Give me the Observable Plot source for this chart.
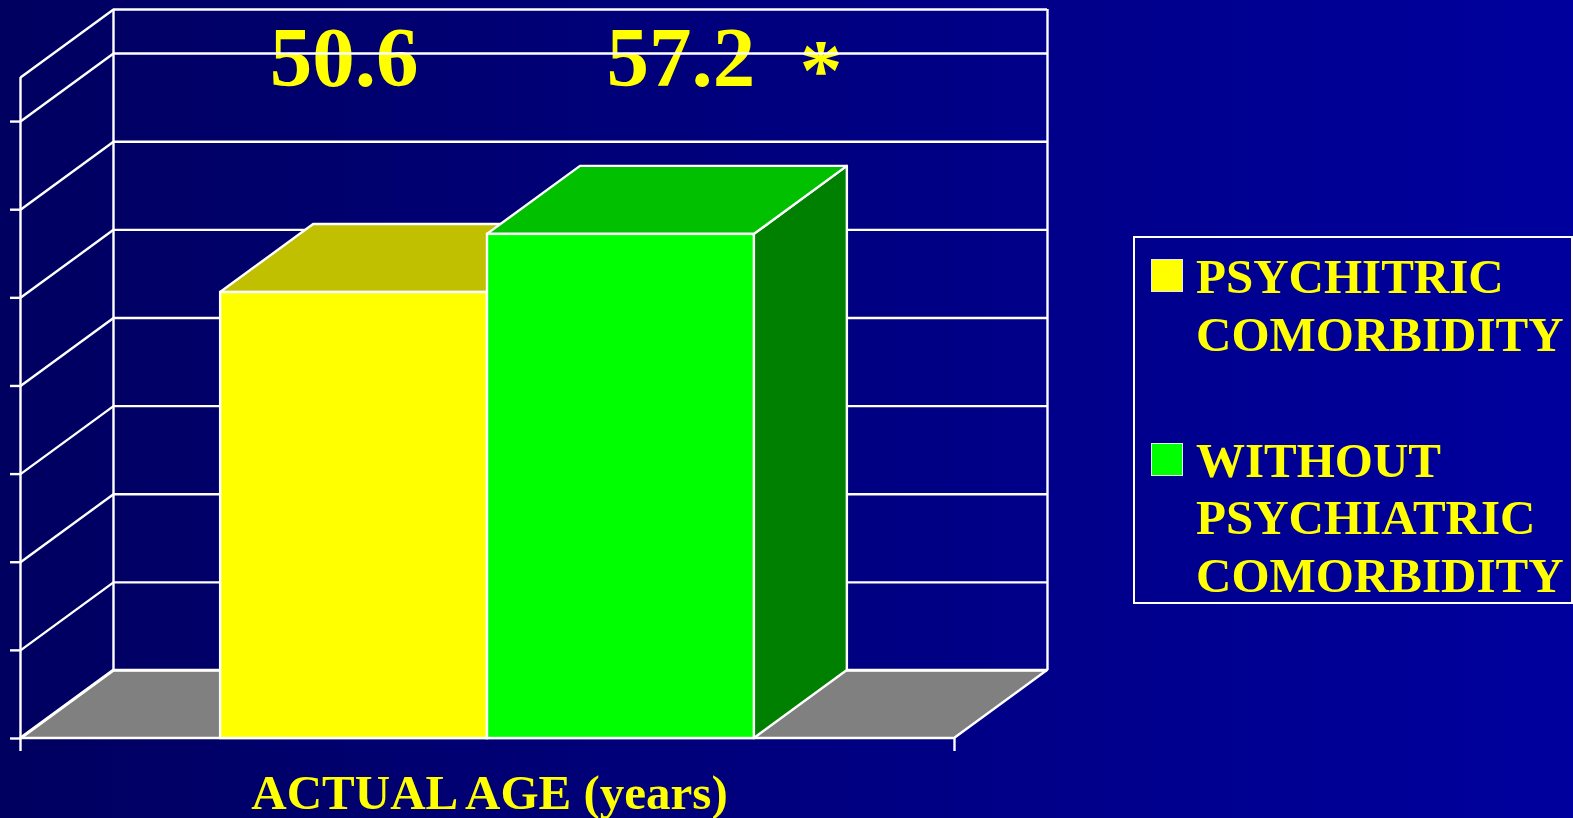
<!DOCTYPE html>
<html>
<head>
<meta charset="utf-8">
<script src="https://cdn.jsdelivr.net/npm/d3@7"></script>
<script src="https://cdn.jsdelivr.net/npm/@observablehq/plot@0.6"></script>
<style>
  html, body { margin: 0; padding: 0; }
  body { width: 1573px; height: 818px; overflow: hidden;
         background: linear-gradient(to right, #000060, #00009e);
         font-family: "Liberation Serif", "Times New Roman", serif; }
  #wrap { position: relative; width: 1573px; height: 818px; }
  #chart svg { display: block; }
  #legend { position: absolute; left: 1133px; top: 236px; width: 440px; height: 368px;
            box-sizing: border-box; border: 2px solid #ffffff; }
  .sw { position: absolute; width: 32px; height: 33px; box-sizing: border-box; border: 1px solid #e8e8e8; }
  .lt { position: absolute; font-size: 49px; line-height: 57.7px; font-weight: bold; color: #ffff00; white-space: pre; }
</style>
</head>
<body>
<div id="wrap">
  <div id="chart"></div>
  <div id="legend"></div>
</div>
<script>
// ---------- data ----------
const categories = ["PSYCHITRIC COMORBIDITY", "WITHOUT PSYCHIATRIC COMORBIDITY"];
const legendLines = [["PSYCHITRIC", "COMORBIDITY"], ["WITHOUT", "PSYCHIATRIC", "COMORBIDITY"]];
const ages = [50.6, 57.2];
const valueLabels = ["50.6", "57.2"];
const significanceMark = "*";
const yTicks = [0, 10, 20, 30, 40, 50, 60, 70];
const yMax = 75;
const axisTitle = "ACTUAL AGE (years)";

// ---------- styles ----------
const frontColors = ["#ffff00", "#00ff00"];
const topColors = ["#c0c000", "#00c000"];
const sideColors = ["#808000", "#008000"];
const lineColor = "#ffffff";
const textColor = "#ffff00";
const font = "Liberation Serif";

// ---------- layout ----------
const W = 1573, H = 818, mL = 20, mR = 619, mT = 77, mB = 80;
const DX = 93, DY = -68;           // oblique depth offset in pixels
const pad = 0.75;                   // outer padding in bar widths
const xDomain = [-0.5 - pad, categories.length - 0.5 + pad];
const kx = (W - mL - mR) / (xDomain[1] - xDomain[0]);
const ky = (H - mT - mB) / yMax;
const du = DX / kx, dv = -DY / ky;  // depth expressed in data units
const x0 = xDomain[0], x1e = xDomain[1];
const wallLevels = [...yTicks, yMax];
const lw = 2.4;

const bars = categories.map((c, i) => ({c, i, v: ages[i], x1: i - 0.5, x2: i + 0.5, label: valueLabels[i]}));

const floor = [
  {x: x0, y1: 0, y2: 0},
  {x: x0 + du, y1: 0, y2: dv},
  {x: x1e, y1: 0, y2: dv},
  {x: x1e + du, y1: dv, y2: dv}
];

const barMarks = bars.flatMap(b => {
  const top = [
    {x: b.x1, y1: b.v, y2: b.v},
    {x: b.x1 + du, y1: b.v, y2: b.v + dv},
    {x: b.x2, y1: b.v, y2: b.v + dv},
    {x: b.x2 + du, y1: b.v + dv, y2: b.v + dv}
  ];
  const side = [
    {x: b.x2, y1: 0, y2: b.v},
    {x: b.x2 + du, y1: dv, y2: b.v + dv}
  ];
  return [
    Plot.areaY(side, {x: "x", y1: "y1", y2: "y2", fill: sideColors[b.i], stroke: lineColor, strokeWidth: lw}),
    Plot.areaY(top, {x: "x", y1: "y1", y2: "y2", fill: topColors[b.i], stroke: lineColor, strokeWidth: lw}),
    Plot.rectY([b], {x1: "x1", x2: "x2", y: "v", fill: frontColors[b.i], stroke: lineColor, strokeWidth: lw})
  ];
});

const labelDx = [-10, 60];

const plot = Plot.plot({
  width: W, height: H,
  marginLeft: mL, marginRight: mR, marginTop: mT, marginBottom: mB,
  style: {background: "transparent", fontFamily: font},
  x: {type: "linear", domain: xDomain},
  y: {type: "linear", domain: [0, yMax]},
  marks: [
    // value labels (behind the grid, as in the original)
    ...bars.map(b => Plot.text([b], {x: "i", text: "label", frameAnchor: "top", lineAnchor: "bottom", dy: 8, dx: labelDx[b.i],
      fontSize: 85, fontWeight: "bold", fill: textColor, fontFamily: font})),
    Plot.text([significanceMark], {x: bars[1].i, text: d => d, frameAnchor: "top", lineAnchor: "bottom", dy: 21, dx: 200,
      fontSize: 86, fontWeight: "bold", fill: textColor, fontFamily: font}),
    // floor
    Plot.areaY(floor, {x: "x", y1: "y1", y2: "y2", fill: "#808080", stroke: lineColor, strokeWidth: lw}),
    // back wall grid
    Plot.ruleY(wallLevels, {x1: x0, x2: x1e, dx: DX, dy: DY, stroke: lineColor, strokeWidth: lw}),
    Plot.ruleX([x0, x1e], {y1: 0, y2: yMax, dx: DX, dy: DY, stroke: lineColor, strokeWidth: lw}),
    // left wall
    Plot.link(wallLevels, {x1: x0, y1: d => d, x2: x0 + du, y2: d => d + dv, stroke: lineColor, strokeWidth: lw}),
    Plot.ruleX([x0], {y1: 0, y2: yMax, stroke: lineColor, strokeWidth: lw}),
    // axes (ticks only)
    Plot.axisY({ticks: yTicks, tickSize: 10, tickFormat: () => "", label: null, stroke: lineColor, strokeWidth: lw}),
    Plot.axisX({ticks: xDomain, tickSize: 13, tickFormat: () => "", label: null, stroke: lineColor, strokeWidth: lw}),
    // bars
    ...barMarks,
    // axis title
    Plot.text([axisTitle], {text: d => d, frameAnchor: "bottom", lineAnchor: "bottom", dy: 70, dx: 2,
      fontSize: 49, fontWeight: "bold", fill: textColor, fontFamily: font})
  ]
});
document.getElementById("chart").appendChild(plot);

// ---------- legend ----------
const wrap = document.getElementById("wrap");
const legendPos = [{sy: 259, ty: 248}, {sy: 443, ty: 431.5}];
legendLines.forEach((lines, i) => {
  const sw = document.createElement("div");
  sw.className = "sw";
  sw.style.left = "1151px";
  sw.style.top = legendPos[i].sy + "px";
  sw.style.background = frontColors[i];
  wrap.appendChild(sw);
  const t = document.createElement("div");
  t.className = "lt";
  t.style.left = "1196px";
  t.style.top = legendPos[i].ty + "px";
  t.textContent = lines.join("\n");
  wrap.appendChild(t);
});
</script>
</body>
</html>
